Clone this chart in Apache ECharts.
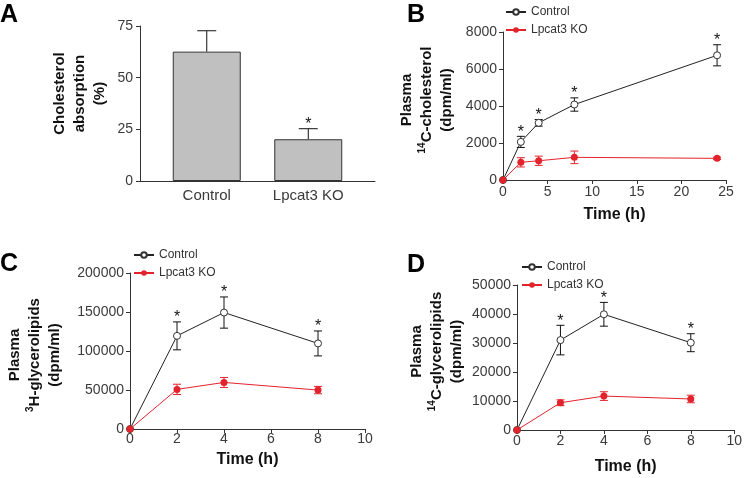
<!DOCTYPE html>
<html><head><meta charset="utf-8">
<script src="https://cdn.jsdelivr.net/npm/echarts@6/dist/echarts.min.js"></script>
<style>html,body{margin:0;padding:0;background:#fff}#c{width:745px;height:478px}</style>
</head><body><div id="c"></div>
<script>
// ---- Panel A data ----
const catsA = ['Control', 'Lpcat3 KO'];
const meanA = [62.6, 20.2];
const errA = [10.1, 5.1];
const sigA = [0, 1];
const ticksA = [0, 25, 50, 75];

// ---- Panel B data ----
const timeB = [0, 2, 4, 8, 24];
const ctrlB = [0, 2060, 3090, 4080, 6740];
const ctrlErrB = [0, 300, 180, 360, 570];
const koB = [0, 955, 1040, 1225, 1170];
const koErrB = [0, 250, 250, 340, 60];
const sigB = [0, 1, 1, 1, 1];

// ---- Panel C data ----
const timeC = [0, 2, 4, 8];
const ctrlC = [0, 119400, 149300, 109700];
const ctrlErrC = [0, 17900, 20000, 16000];
const koC = [0, 50800, 59700, 49900];
const koErrC = [0, 6600, 6400, 4700];
const sigC = [0, 1, 1, 1];

// ---- Panel D data ----
const timeD = [0, 2, 4, 8];
const ctrlD = [0, 31000, 39900, 30100];
const ctrlErrD = [0, 5100, 4100, 3100];
const koD = [0, 9400, 11700, 10700];
const koErrD = [0, 1000, 1500, 1300];
const sigD = [0, 1, 1, 1];

const FONT = '"Liberation Sans", Arial, sans-serif';
const AX = '#333';
const RED = '#e3232b';
const BLK = '#111';
const plain = v => String(v);

const chart = echarts.init(document.getElementById('c'), null, {renderer: 'canvas'});

function valAxis(gi, min, max, interval, extra, labelMargin) {
  return Object.assign({
    type: 'value', gridIndex: gi, min: min, max: max, interval: interval,
    axisLine: {show: true, lineStyle: {color: AX, width: 1}},
    axisTick: {show: true, length: 4, lineStyle: {color: AX}},
    axisLabel: {fontSize: 14, color: '#3a3a3a', fontFamily: FONT, margin: labelMargin || 6, formatter: plain},
    splitLine: {show: false}
  }, extra || {});
}

function yName(text, gap, pad) {
  return {
    name: text, nameLocation: 'middle', nameRotate: 90, nameGap: gap,
    nameTextStyle: {
      fontSize: 15, fontWeight: 'bold', color: BLK, fontFamily: FONT, lineHeight: 20, align: 'center',
      padding: pad,
      rich: {sup: {fontSize: 10, fontWeight: 'bold', color: BLK, fontFamily: FONT, lineHeight: 11, verticalAlign: 'top'}}
    }
  };
}
function xName(gap) {
  return {
    name: 'Time (h)', nameLocation: 'middle', nameGap: gap,
    nameTextStyle: {fontSize: 16, fontWeight: 'bold', color: BLK, fontFamily: FONT}
  };
}

function errSeries(xi, yi, xs, mean, err, sig, color, capHalf, oneSided) {
  return {
    type: 'custom', xAxisIndex: xi, yAxisIndex: yi, z: 1, silent: true,
    data: xs.map((t, i) => [t, oneSided ? mean[i] : mean[i] - err[i], mean[i] + err[i], sig ? sig[i] : 0, err[i]]),
    renderItem: function (params, api) {
      const x = api.value(0), lo = api.value(1), hi = api.value(2), s = api.value(3), e = api.value(4);
      const pT = api.coord([x, hi]), pB = api.coord([x, lo]);
      const ch = [];
      const st = {stroke: color, lineWidth: 1};
      if (e > 0) {
        ch.push({type: 'line', shape: {x1: pT[0], y1: pT[1], x2: pB[0], y2: pB[1]}, style: st});
        ch.push({type: 'line', shape: {x1: pT[0] - capHalf, y1: pT[1], x2: pT[0] + capHalf, y2: pT[1]}, style: st});
        if (!oneSided) ch.push({type: 'line', shape: {x1: pB[0] - capHalf, y1: pB[1], x2: pB[0] + capHalf, y2: pB[1]}, style: st});
      }
      if (s) {
        ch.push({type: 'text', style: {text: '*', x: pT[0], y: pT[1] + 4, align: 'center', verticalAlign: 'bottom',
          font: '16px ' + FONT, fill: BLK}});
      }
      return {type: 'group', children: ch};
    }
  };
}

function lineSeries(name, xi, yi, xs, ys, ctrl) {
  return {
    type: 'line', name: name, xAxisIndex: xi, yAxisIndex: yi, z: 3,
    data: xs.map((t, i) => [t, ys[i]]),
    symbol: 'circle', symbolSize: ctrl ? 7 : 7, showSymbol: true,
    lineStyle: {color: ctrl ? '#222' : RED, width: 1},
    itemStyle: ctrl ? {color: '#fff', borderColor: '#333', borderWidth: 1}
                    : {color: RED, borderColor: RED, borderWidth: 0}
  };
}

function legendAt(left, top) {
  return {
    data: ['Control', 'Lpcat3 KO'], orient: 'vertical', left: left, top: top,
    itemWidth: 20, itemHeight: 7, itemGap: 4, padding: 0,
    textStyle: {fontSize: 12, color: '#333', fontFamily: FONT, lineHeight: 14}
  };
}

const option = {
  animation: false,
  backgroundColor: '#fff',
  textStyle: {fontFamily: FONT},
  grid: [
    {left: 140, top: 26, width: 235, height: 155},   // 0: A axis frame
    {left: 156, top: 26, width: 203, height: 155},   // 1: A bars
    {left: 503, top: 32, width: 223, height: 148},   // 2: B
    {left: 130, top: 273, width: 235, height: 156},  // 3: C
    {left: 517, top: 285, width: 221, height: 145}   // 4: D
  ],
  xAxis: [
    {type: 'value', gridIndex: 0, min: 0, max: 1, axisLine: {show: true, lineStyle: {color: AX}},
      axisTick: {show: false}, axisLabel: {show: false}, splitLine: {show: false}},
    {type: 'category', gridIndex: 1, data: catsA, axisLine: {show: false}, axisTick: {show: false},
      axisLabel: {fontSize: 15, color: '#3a3a3a', fontFamily: FONT, margin: 7}},
    valAxis(2, 0, 25, 5, xName(27), 5),
    valAxis(3, 0, 10, 2, xName(23), 3),
    valAxis(4, 0, 10, 2, xName(29), 4)
  ],
  yAxis: [
    valAxis(0, ticksA[0], ticksA[ticksA.length - 1], ticksA[1] - ticksA[0], yName('Cholesterol\nabsorption\n(%)', 30, [0, 0, 0, 20]), 7),
    {type: 'value', gridIndex: 1, min: 0, max: 75, show: false},
    valAxis(2, 0, 8000, 2000, yName('Plasma\n{sup|14}C-cholesterol\n(dpm/ml)', 46, [0, 0, 0, 12])),
    valAxis(3, 0, 200000, 50000, yName('Plasma\n{sup|3}H-glycerolipids\n(dpm/ml)', 65, [0, 8, 0, 0])),
    valAxis(4, 0, 50000, 10000, yName('Plasma\n{sup|14}C-glycerolipids\n(dpm/ml)', 50, [0, 0, 0, 12]))
  ],
  legend: [legendAt(505, 5), legendAt(133, 248), legendAt(521, 260)],
  series: [
    {type: 'bar', xAxisIndex: 1, yAxisIndex: 1, data: meanA, barWidth: 68, z: 2,
      itemStyle: {color: '#c0c0c0', borderColor: '#333', borderWidth: 1}},
    errSeries(1, 1, catsA.map((c, i) => i), meanA, errA, sigA, BLK, 9.5, true),

    errSeries(2, 2, timeB, ctrlB, ctrlErrB, sigB, BLK, 4, false),
    errSeries(2, 2, timeB, koB, koErrB, null, RED, 4, false),
    lineSeries('Control', 2, 2, timeB, ctrlB, true),
    lineSeries('Lpcat3 KO', 2, 2, timeB, koB, false),

    errSeries(3, 3, timeC, ctrlC, ctrlErrC, sigC, BLK, 4, false),
    errSeries(3, 3, timeC, koC, koErrC, null, RED, 4, false),
    lineSeries('Control', 3, 3, timeC, ctrlC, true),
    lineSeries('Lpcat3 KO', 3, 3, timeC, koC, false),

    errSeries(4, 4, timeD, ctrlD, ctrlErrD, sigD, BLK, 4, false),
    errSeries(4, 4, timeD, koD, koErrD, null, RED, 4, false),
    lineSeries('Control', 4, 4, timeD, ctrlD, true),
    lineSeries('Lpcat3 KO', 4, 4, timeD, koD, false)
  ],
  graphic: [
    {type: 'text', left: 0, top: 3, style: {text: 'A', font: 'bold 25px ' + FONT, fill: '#000'}},
    {type: 'text', left: 407, top: 3, style: {text: 'B', font: 'bold 25px ' + FONT, fill: '#000'}},
    {type: 'text', left: 0, top: 252, style: {text: 'C', font: 'bold 25px ' + FONT, fill: '#000'}},
    {type: 'text', left: 407, top: 253, style: {text: 'D', font: 'bold 25px ' + FONT, fill: '#000'}}
  ]
};
chart.setOption(option);
</script>
</body></html>
